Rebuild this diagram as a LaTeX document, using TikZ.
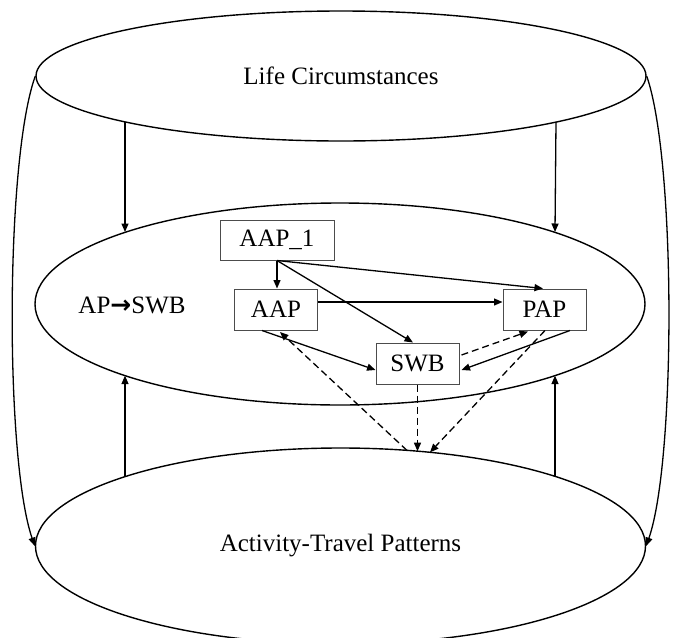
\documentclass[tikz,border=0pt]{standalone}
\usepackage{fontspec}
\setmainfont{Liberation Serif}
\newfontfamily\arrowfont{DejaVu Sans}
\usetikzlibrary{shapes.geometric,arrows.meta,calc}
\begin{document}
\begin{tikzpicture}[x=1pt,y=-1pt,
  lbl/.style={font=\fontsize{25}{30}\selectfont},
  oval/.style={draw, ellipse, line width=1.4pt, inner sep=0pt, minimum width=610pt, lbl},
  box/.style={draw=black!70, line width=1pt, minimum width=83pt, minimum height=41pt, inner sep=0pt, lbl},
  arr/.style={line width=1.3pt, -{Triangle[length=8.5pt,width=7pt]}},
  darr/.style={arr, dash pattern=on 7pt off 4pt}]
\useasboundingbox (0,0) rectangle (673,638);

% the three levels
\node[oval, minimum height=130pt] (lc) at (341,76) {Life Circumstances};
\node[oval, minimum height=202pt] (ap) at (340,304) {};
\node[oval, minimum height=196pt] (atp) at (340.5,546) {Activity-Travel Patterns};

% inner model
\node[lbl] (lab) at (132,305) {AP{\arrowfont\bfseries →}SWB};
\node[box, minimum width=114pt, minimum height=40pt] (a1) at (277,240) {AAP\_1};
\node[box] (aap) at (276,309.5) {AAP};
\node[box] (pap) at (544.5,309.5) {PAP};
\node[box] (swb) at (417.5,363.5) {SWB};

% links between the levels
\draw[arr] ($(lc.center)+(-216,46)$) -- ($(ap.center)+(-215,-72)$);
\draw[arr] ($(lc.center)+(215,46)$) -- ($(ap.center)+(215,-72)$);
\draw[arr] ($(atp.center)+(-215.5,-69.5)$) -- ($(ap.center)+(-215,71.6)$);
\draw[arr] ($(atp.center)+(214.5,-69.5)$) -- ($(ap.center)+(215,71.6)$);
\draw[arr] (lc.west) .. controls (5,160) and (5,460) .. (atp.west);
\draw[arr] (lc.east) .. controls (676,160) and (676,460) .. (atp.east);

% solid paths of the model
\draw[arr] (a1.south) -- (a1.south |- aap.north);
\draw[arr] (a1.south) -- ($(pap.north)+(-1.5,0)$);
\draw[arr] (a1.south) -- ($(swb.north)+(-4.5,0)$);
\draw[arr] ($(aap.east)+(0,-7.5)$) -- ($(pap.west)+(0,-7.5)$);
\draw[arr] ($(aap.south)+(-14,0)$) -- ($(swb.west)+(0,6.5)$);
\draw[arr] ($(pap.south)+(25.5,0)$) -- ($(swb.east)+(2,6.5)$);

% dashed paths of the model
\draw[darr] ($(swb.east)+(2,-8.5)$) -- ($(pap.south)+(-16.5,1)$);
\draw[darr] ($(atp.center)+(66.5,-95.6)$) -- ($(aap.south)+(4,1.5)$);
\draw[darr] (swb.south) -- ($(atp.center)+(77,-94.8)$);
\draw[darr] ($(pap.south)+(0.5,0)$) -- ($(atp.center)+(89.5,-93.7)$);
\end{tikzpicture}
\end{document}
